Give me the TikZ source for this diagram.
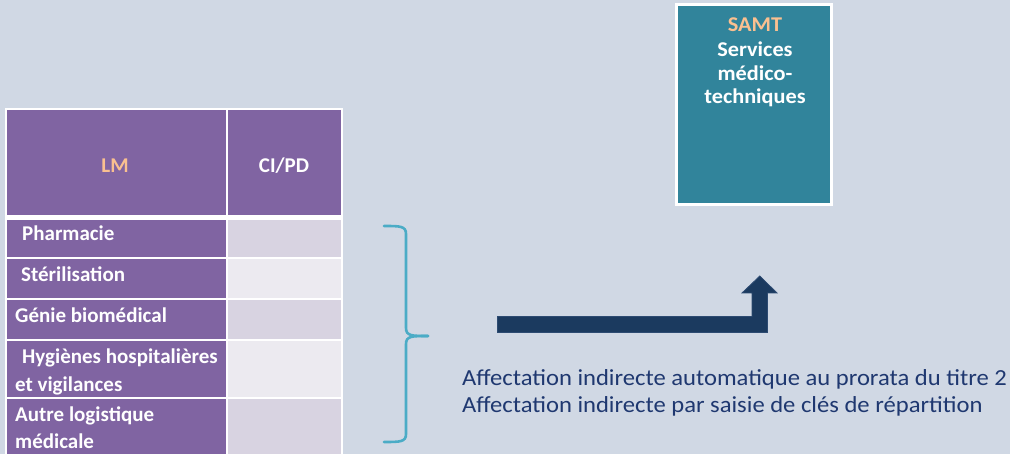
\documentclass[tikz,border=0pt]{standalone}
\usepackage{fontspec}
\setmainfont{Carlito}
\definecolor{bgc}{HTML}{D0D8E4}
\definecolor{purp}{HTML}{8064A2}
\definecolor{celldark}{HTML}{D8D3E1}
\definecolor{celllight}{HTML}{ECEAF0}
\definecolor{peach}{HTML}{FAC090}
\definecolor{teal}{HTML}{31849B}
\definecolor{bracec}{HTML}{4BACC6}
\definecolor{navy}{HTML}{1B3A5F}
\definecolor{navyedge}{HTML}{2D4B72}
\definecolor{txtblue}{HTML}{1F3870}
\tikzset{
  lbl/.style={inner sep=0pt, anchor=base west, text=white, font=\fontsize{21}{25}\selectfont\bfseries},
  hdr/.style={inner sep=0pt, anchor=base, font=\fontsize{21}{25}\selectfont\bfseries},
  samtx/.style={inner sep=0pt, anchor=base, font=\fontsize{21}{24}\selectfont\bfseries},
  note/.style={inner sep=0pt, anchor=base west, text=txtblue, font=\fontsize{23}{27}\selectfont},
}
\newcommand{\wideS}[1]{\scalebox{1.06}[1]{#1}}
\newcommand{\wideN}[1]{\scalebox{1.07}[1]{#1}}
\begin{document}
\begin{tikzpicture}[x=1pt,y=-1pt]
\useasboundingbox (0,0) rectangle (1010,454);
\fill[bgc] (0,0) rectangle (1010,454);
% table frame
\fill[white] (5,108) rectangle (343,460);
% header
\fill[purp] (7,110) rectangle (226,215);
\fill[purp] (228,110) rectangle (341,215);
\node[hdr, text=peach] (lm) at (115,172.5) {LM};
\node[hdr, text=white] (cipd) at (284,172.5) {CI/PD};
% rows
\fill[purp] (7,220) rectangle (226,257.5);
\fill[celldark] (228,220) rectangle (341,257.5);
\fill[purp] (7,259.5) rectangle (226,298.5);
\fill[celllight] (228,259.5) rectangle (341,298.5);
\fill[purp] (7,300.5) rectangle (226,339.5);
\fill[celldark] (228,300.5) rectangle (341,339.5);
\fill[purp] (7,341.5) rectangle (226,397.5);
\fill[celllight] (228,341.5) rectangle (341,397.5);
\fill[purp] (7,399.5) rectangle (226,460);
\fill[celldark] (228,399.5) rectangle (341,460);
\node[lbl] (r1) at (22,241) {Pharmacie};
\node[lbl] (r2) at (21,281.5) {Stérilisation};
\node[lbl] (r3) at (15,322.5) {Génie biomédical};
\node[lbl] (r4a) at (22,364) {Hygiènes hospitalières};
\node[lbl] (r4b) at (15,391.5) {et vigilances};
\node[lbl] (r5a) at (15,421.5) {Autre logistique};
\node[lbl] (r5b) at (15,449) {médicale};
% SAMT box
\fill[white] (675,3) rectangle (833,206);
\fill[teal] (678,6) rectangle (830,203);
\node[samtx, text=peach] (samt) at (755,31.7) {\wideS{SAMT}};
\node[samtx, text=white] (s1) at (755,56.7) {\wideS{Services}};
\node[samtx, text=white] (s2) at (755,80.5) {\wideS{médico-}};
\node[samtx, text=white] (s3) at (755,104) {\wideS{techniques}};
% brace
\draw[bracec, line width=2.6pt, line cap=round]
  (384,226) .. controls (400,226) and (406,226) .. (406,234)
  -- (406,328) .. controls (406,336) and (412,336) .. (428,336);
\draw[bracec, line width=2.6pt, line cap=round]
  (428,336) .. controls (412,336) and (406,336) .. (406,344)
  -- (406,434) .. controls (406,442) and (400,442) .. (384,442);
% bent arrow
\filldraw[fill=navy, draw=navyedge, line width=0.8pt]
  (497.5,316.5) -- (752,316.5) -- (752,293) -- (742,293) -- (759.8,276)
  -- (777,293) -- (767.5,293) -- (767.5,332.5) -- (497.5,332.5) -- cycle;
% notes
\node[note] (n1) at (462,386) {\wideN{Affectation indirecte automatique au prorata du titre 2}};
\node[note] (n2) at (462,413) {\wideN{Affectation indirecte par saisie de clés de répartition}};
\end{tikzpicture}
\end{document}
